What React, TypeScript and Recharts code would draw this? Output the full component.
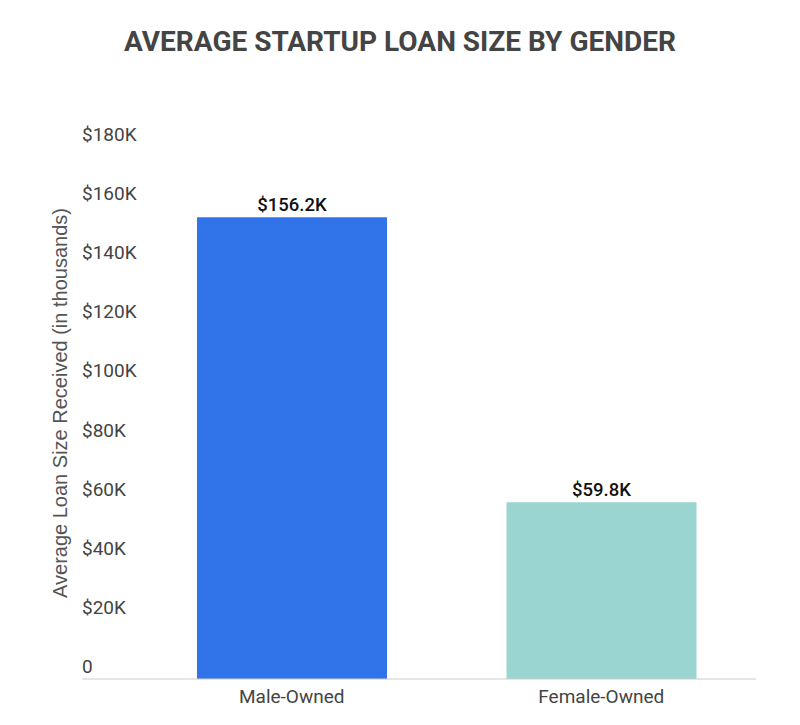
import React from 'react';
import { BarChart, Bar, XAxis, YAxis, Cell, LabelList } from 'recharts';

const categories = ['Male-Owned', 'Female-Owned'];
const loanValues = [156200, 59800];
const valueLabels = ['$156.2K', '$59.8K'];
const barColors = ['#3174ea', '#9ad5d1'];
const yTicks = [0, 20000, 40000, 60000, 80000, 100000, 120000, 140000, 160000, 180000];

const data = categories.map((c, i) => ({ name: c, value: loanValues[i], label: valueLabels[i] }));

const fmtY = (v: number) => (v === 0 ? '0' : `$${v / 1000}K`);

const YTick = (props: any) => {
  const { y, payload } = props;
  return (
    <text x={82} y={y - 6} textAnchor="start" fill="#444" fontSize={19} fontFamily="Roboto">
      {fmtY(payload.value)}
    </text>
  );
};

const YLabel = (props: any) => {
  const vb = props.viewBox || {};
  const cy = vb.y + vb.height / 2 - 10;
  return (
    <text
      x={67}
      y={cy}
      transform={`rotate(-90, 67, ${cy})`}
      textAnchor="middle"
      fill="#555"
      fontSize={20}
      fontFamily="Liberation Sans, Arial, sans-serif"
    >
      Average Loan Size Received (in thousands)
    </text>
  );
};

export default function App() {
  return (
    <div style={{ position: 'absolute', left: 0, top: 0, width: 800, height: 725, background: '#fff' }}>
      <div
        style={{
          position: 'absolute',
          left: 0,
          top: 25,
          width: 800,
          textAlign: 'center',
          fontFamily: 'Roboto',
          fontWeight: 700,
          fontSize: 28,
          color: '#444',
        }}
      >
        AVERAGE STARTUP LOAN SIZE BY GENDER
      </div>
      <BarChart width={800} height={725} data={data} margin={{ top: 147, right: 44, bottom: 0, left: 0 }} barSize={190}>
        <YAxis
          width={82}
          domain={[0, 180000]}
          ticks={yTicks}
          axisLine={false}
          tickLine={false}
          tick={<YTick />}
          label={<YLabel />}
        />
        <XAxis
          dataKey="name"
          height={46}
          padding={{ left: 55, right: 0 }}
          axisLine={{ stroke: '#cccccc' }}
          tickLine={false}
          tick={{ fill: '#444', fontSize: 19, fontFamily: 'Roboto' }}
          tickMargin={5}
        />
        <Bar dataKey="value" isAnimationActive={false}>
          {data.map((d, i) => (
            <Cell key={d.name} fill={barColors[i]} />
          ))}
          <LabelList dataKey="label" position="top" offset={6} fill="#111" fontSize={18.5} fontFamily="Roboto" fontWeight={500} />
        </Bar>
      </BarChart>
    </div>
  );
}
